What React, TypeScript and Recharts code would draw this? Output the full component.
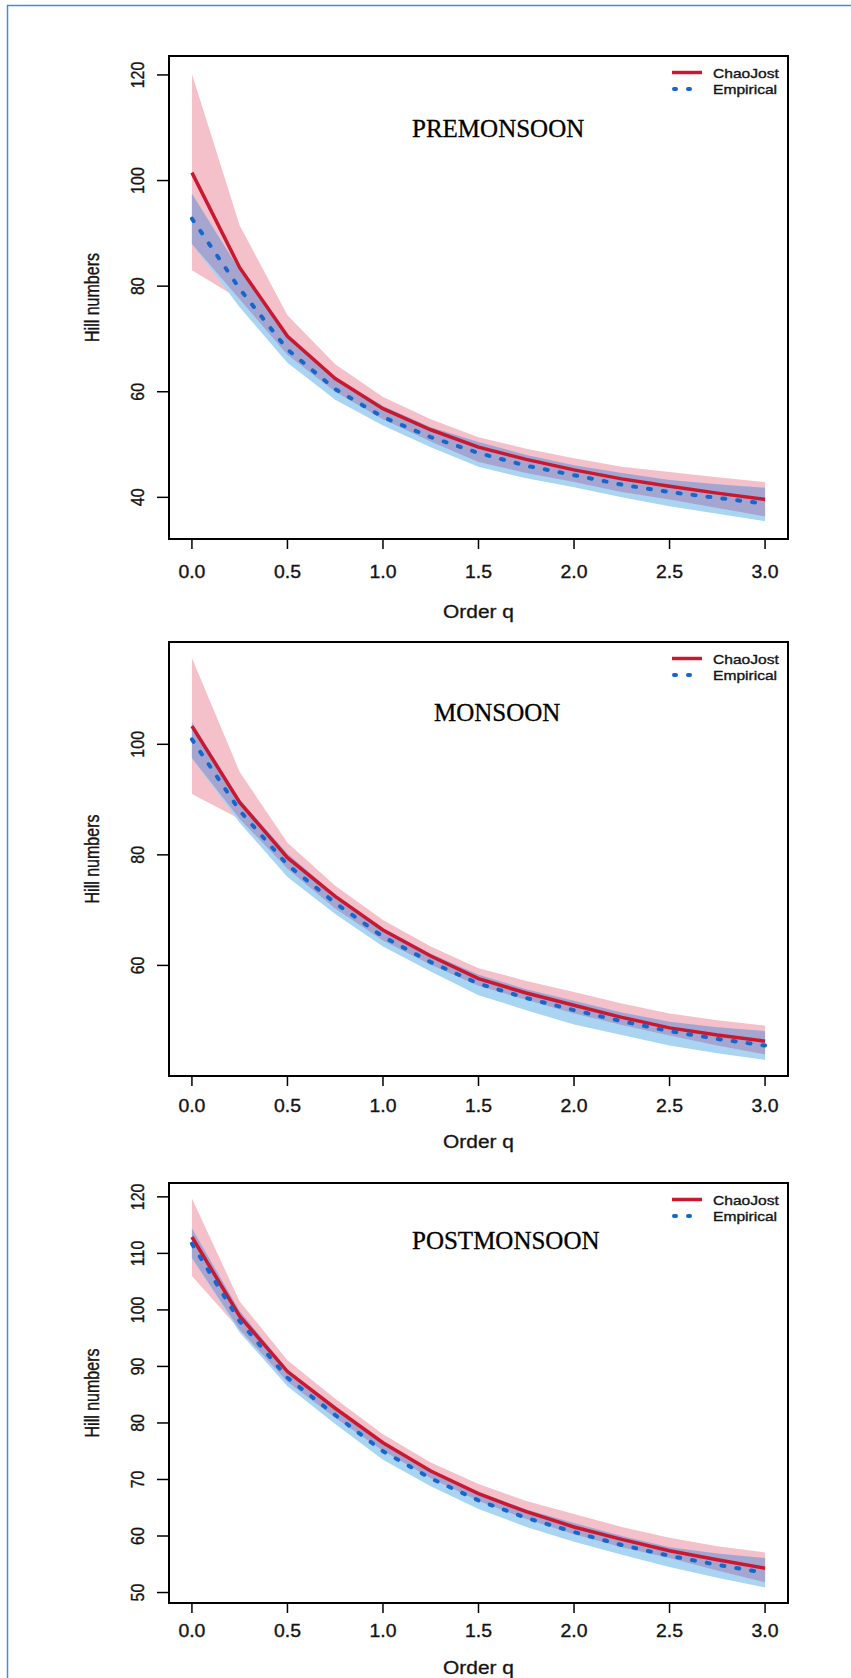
import React from 'react';
import { ComposedChart, Area, Line, XAxis, YAxis, ReferenceArea } from 'recharts';

const SANS = '"Liberation Sans", Arial, Helvetica, sans-serif';
const SERIF = '"Liberation Serif", "Times New Roman", serif';

// Order q values
const Q = [0, 0.25, 0.5, 0.75, 1, 1.25, 1.5, 1.75, 2, 2.25, 2.5, 2.75, 3];
const X_TICKS = [0, 0.5, 1, 1.5, 2, 2.5, 3];

// PREMONSOON
const preCJ = [101.5, 83.5, 70.5, 62.5, 56.8, 52.8, 49.5, 47.2, 45.2, 43.5, 42.1, 40.8, 39.6];
const preCJLo = [83.0, 77.5, 67.0, 60.0, 54.8, 50.6, 46.7, 44.6, 42.9, 41.0, 39.6, 38.0, 36.4];
const preCJHi = [120.2, 91.5, 74.5, 65.2, 59.0, 54.8, 51.4, 49.2, 47.4, 45.8, 44.8, 43.8, 42.9];
const preEM = [92.8, 79.5, 68.0, 60.5, 55.2, 51.4, 48.4, 46.0, 44.2, 42.4, 41.0, 39.9, 38.8];
const preEMLo = [88.0, 76.0, 65.5, 58.5, 53.6, 49.5, 45.8, 43.6, 41.9, 40.0, 38.3, 36.9, 35.5];
const preEMHi = [97.5, 83.0, 70.5, 62.7, 57.3, 53.3, 50.5, 48.0, 46.1, 44.6, 43.3, 42.5, 41.8];
const preYTicks = [40, 60, 80, 100, 120];

// MONSOON
const monCJ = [103.3, 89.5, 79.5, 72.5, 66.4, 61.7, 57.6, 55.0, 52.8, 50.6, 48.7, 47.4, 46.3];
const monCJLo = [91.0, 86.5, 77.5, 70.3, 64.5, 60.1, 56.3, 53.8, 51.3, 49.2, 47.3, 45.5, 43.9];
const monCJHi = [115.6, 95.0, 82.2, 74.4, 68.2, 63.4, 59.5, 57.2, 55.2, 53.1, 51.3, 50.1, 49.1];
const monEM = [100.9, 88.0, 78.2, 71.3, 65.2, 60.6, 56.7, 54.1, 51.9, 49.9, 48.1, 46.7, 45.5];
const monEMLo = [97.5, 85.8, 76.0, 69.3, 63.4, 58.9, 54.6, 51.9, 49.3, 47.4, 45.5, 44.1, 42.9];
const monEMHi = [104.0, 90.0, 80.2, 72.8, 66.7, 62.1, 58.3, 55.7, 53.6, 51.5, 49.8, 48.8, 48.1];
const monYTicks = [60, 80, 100];

// POSTMONSOON
const postCJ = [112.9, 98.9, 89.1, 82.6, 76.5, 71.5, 67.5, 64.3, 61.6, 59.4, 57.4, 55.8, 54.3];
const postCJLo = [106.0, 96.5, 87.3, 80.9, 75.1, 70.2, 66.2, 63.0, 60.3, 58.0, 56.1, 53.9, 51.8];
const postCJHi = [119.7, 101.5, 91.1, 84.3, 78.0, 73.0, 69.2, 66.2, 63.9, 61.6, 59.7, 58.2, 57.1];
const postEM = [111.7, 98.0, 88.0, 81.4, 75.0, 70.2, 66.3, 63.2, 60.7, 58.4, 56.5, 54.9, 53.5];
const postEMLo = [109.2, 96.0, 86.5, 79.8, 73.5, 68.8, 64.8, 61.6, 59.0, 56.7, 54.5, 52.6, 50.9];
const postEMHi = [114.4, 99.8, 89.5, 82.8, 76.5, 71.6, 67.8, 64.7, 62.3, 60.0, 58.0, 56.9, 56.1];
const postYTicks = [50, 60, 70, 80, 90, 100, 110, 120];

const SERIES_NAMES = ['ChaoJost', 'Empirical'];

const PINK = '#f4c0c9';
const LIGHTBLUE = '#a9d5f3';
const OVERLAP = '#a6a5cf';
const RED = '#c9182f';
const BLUE = '#1766cc';
const INK = '#141414';

const X_DOMAIN: [number, number] = [-0.12, 3.12];
const PLOT_LEFT = 169;
const PLOT_RIGHT = 788;
const W = 851;

function buildRows(cj: number[], cjLo: number[], cjHi: number[], em: number[], emLo: number[], emHi: number[]) {
  return Q.map((q, i) => {
    const oLo = Math.max(cjLo[i], emLo[i]);
    const oHi = Math.min(cjHi[i], emHi[i]);
    return {
      q,
      cj: cj[i],
      em: em[i],
      cjBand: [cjLo[i], cjHi[i]],
      emBand: [emLo[i], emHi[i]],
      ovBand: [oLo, Math.max(oLo, oHi)],
    };
  });
}

function yDomain(arrs: number[][]): [number, number] {
  const all = arrs.flat();
  const mn = Math.min(...all);
  const mx = Math.max(...all);
  const d = (mx - mn) * 0.04;
  return [mn - d, mx + d];
}

type PanelCfg = {
  title: string;
  titleX: number;
  titleBase: number;
  rows: any[];
  yTicks: number[];
  domain: [number, number];
  boxTop: number;
  boxBottom: number;
  xTickTop: number;
  xLabBase: number;
};

const panels: PanelCfg[] = [
  {
    title: 'PREMONSOON',
    titleX: 412,
    titleBase: 81,
    rows: buildRows(preCJ, preCJLo, preCJHi, preEM, preEMLo, preEMHi),
    yTicks: preYTicks,
    domain: yDomain([preCJ, preCJLo, preCJHi, preEM, preEMLo, preEMHi]),
    boxTop: 56,
    boxBottom: 539,
    xTickTop: 26,
    xLabBase: 79,
  },
  {
    title: 'MONSOON',
    titleX: 434,
    titleBase: 79,
    rows: buildRows(monCJ, monCJLo, monCJHi, monEM, monEMLo, monEMHi),
    yTicks: monYTicks,
    domain: yDomain([monCJ, monCJLo, monCJHi, monEM, monEMLo, monEMHi]),
    boxTop: 642,
    boxBottom: 1076,
    xTickTop: 23,
    xLabBase: 72,
  },
  {
    title: 'POSTMONSOON',
    titleX: 412,
    titleBase: 66,
    rows: buildRows(postCJ, postCJLo, postCJHi, postEM, postEMLo, postEMHi),
    yTicks: postYTicks,
    domain: yDomain([postCJ, postCJLo, postCJHi, postEM, postEMLo, postEMHi]),
    boxTop: 1183,
    boxBottom: 1603,
    xTickTop: 21,
    xLabBase: 71,
  },
];

const TOP_PAD = 40;
const XAXIS_H = 90;

function XTick(props: any) {
  const { x, y, payload } = props;
  return (
    <text
      transform={`translate(${x},${y + 13}) scale(1.08,1)`}
      textAnchor="middle"
      fontFamily={SANS}
      fontSize={18}
      fill={INK}
      stroke={INK}
      strokeWidth={0.35}
    >
      {Number(payload.value).toFixed(1)}
    </text>
  );
}

function YTick(props: any) {
  const { x, y, payload } = props;
  return (
    <text
      transform={`translate(${x - 11},${y}) scale(1.2,1) rotate(-90)`}
      textAnchor="middle"
      fontFamily={SANS}
      fontSize={16}
      fill={INK}
      stroke={INK}
      strokeWidth={0.3}
    >
      {payload.value}
    </text>
  );
}

function Panel({ cfg }: { cfg: PanelCfg }) {
  const T = cfg.boxTop - TOP_PAD;
  const H = cfg.boxBottom - T + XAXIS_H;
  return (
    <div style={{ position: 'absolute', left: 0, top: T, width: W, height: H }}>
      <ComposedChart
        width={W}
        height={H}
        data={cfg.rows}
        margin={{ top: TOP_PAD, right: W - PLOT_RIGHT, bottom: 0, left: PLOT_LEFT - 60 }}
      >
        <XAxis
          type="number"
          dataKey="q"
          domain={X_DOMAIN}
          ticks={X_TICKS}
          allowDataOverflow
          axisLine={false}
          tickSize={10}
          tickMargin={cfg.xTickTop - 10}
          tickLine={{ stroke: '#000', strokeWidth: 1.5 }}
          height={XAXIS_H}
          tick={XTick}
          interval={0}
        />
        <YAxis
          type="number"
          domain={cfg.domain}
          ticks={cfg.yTicks}
          allowDataOverflow
          axisLine={false}
          tickSize={12}
          tickMargin={2}
          tickLine={{ stroke: '#000', strokeWidth: 1.5 }}
          width={60}
          tick={YTick}
          interval={0}
        />
        <Area type="linear" dataKey="cjBand" stroke="none" fill={PINK} fillOpacity={1}
          isAnimationActive={false} dot={false} activeDot={false} />
        <Area type="linear" dataKey="emBand" stroke="none" fill={LIGHTBLUE} fillOpacity={1}
          isAnimationActive={false} dot={false} activeDot={false} />
        <Area type="linear" dataKey="ovBand" stroke="none" fill={OVERLAP} fillOpacity={1}
          isAnimationActive={false} dot={false} activeDot={false} />
        <Line type="linear" dataKey="cj" name={SERIES_NAMES[0]} stroke={RED} strokeWidth={3.5}
          dot={false} activeDot={false} isAnimationActive={false} />
        <Line type="linear" dataKey="em" name={SERIES_NAMES[1]} stroke={BLUE} strokeWidth={4}
          strokeDasharray="3 12" strokeLinecap="round"
          dot={false} activeDot={false} isAnimationActive={false} />
        <ReferenceArea
          x1={X_DOMAIN[0]}
          x2={X_DOMAIN[1]}
          y1={cfg.domain[0]}
          y2={cfg.domain[1]}
          fill="none"
          fillOpacity={0}
          stroke="#000"
          strokeWidth={2}
          ifOverflow="visible"
        />
      </ComposedChart>
    </div>
  );
}

function Overlay() {
  const cx = (PLOT_LEFT + PLOT_RIGHT) / 2;
  return (
    <svg width={W} height={1678} style={{ position: 'absolute', left: 0, top: 0, pointerEvents: 'none' }}>
      <line x1={7.5} y1={5} x2={7.5} y2={1678} stroke="#3d8fe0" strokeWidth={1.5} />
      <line x1={7} y1={5.5} x2={W} y2={5.5} stroke="#3d8fe0" strokeWidth={1.5} />
      {panels.map((p) => (
        <g key={p.title}>
          <text x={p.titleX} y={p.boxTop + p.titleBase} fontFamily={SERIF} fontSize={25} fill="#000"
            stroke="#000" strokeWidth={0.3}>
            {p.title}
          </text>
          <text
            transform={`translate(${cx},${p.boxBottom + p.xLabBase}) scale(1.16,1)`}
            textAnchor="middle"
            fontFamily={SANS}
            fontSize={18}
            fill={INK}
            stroke={INK}
            strokeWidth={0.3}
          >
            Order q
          </text>
          <text
            transform={`translate(99,${(p.boxTop + p.boxBottom) / 2}) scale(1.25,1) rotate(-90)`}
            textAnchor="middle"
            fontFamily={SANS}
            fontSize={16}
            fill={INK}
            stroke={INK}
            strokeWidth={0.3}
          >
            Hill numbers
          </text>
          <line x1={672} x2={702} y1={p.boxTop + 16.5} y2={p.boxTop + 16.5} stroke={RED} strokeWidth={3.5} />
          <line x1={674} x2={702} y1={p.boxTop + 33} y2={p.boxTop + 33} stroke={BLUE} strokeWidth={4}
            strokeDasharray="2 12" strokeLinecap="round" />
          <text transform={`translate(713,${p.boxTop + 21.5}) scale(1.2,1)`} fontFamily={SANS} fontSize={13}
            fill={INK} stroke={INK} strokeWidth={0.35}>
            {SERIES_NAMES[0]}
          </text>
          <text transform={`translate(713,${p.boxTop + 38}) scale(1.2,1)`} fontFamily={SANS} fontSize={13}
            fill={INK} stroke={INK} strokeWidth={0.35}>
            {SERIES_NAMES[1]}
          </text>
        </g>
      ))}
    </svg>
  );
}

export default function App() {
  return (
    <div style={{ position: 'absolute', left: 0, top: 0, width: W, height: 1678, overflow: 'hidden', background: '#fff' }}>
      {panels.map((p) => (
        <Panel key={p.title} cfg={p} />
      ))}
      <Overlay />
    </div>
  );
}
